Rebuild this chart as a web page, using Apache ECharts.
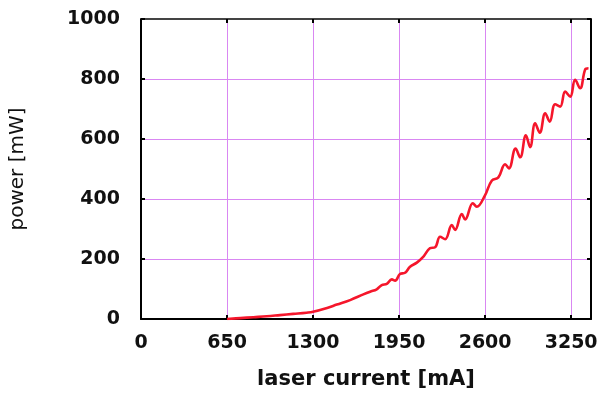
<!DOCTYPE html>
<html>
<head>
<meta charset="utf-8">
<script src="https://cdn.jsdelivr.net/npm/echarts@6/dist/echarts.min.js"></script>
<style>
  html, body { margin: 0; padding: 0; background: #fff; }
  #chart { width: 609px; height: 398px; }
</style>
</head>
<body>
<div id="chart"></div>
<script>
var current = [650, 750, 850, 950, 1050, 1150, 1250, 1300, 1400, 1480, 1580, 1680, 1731, 1781, 1819, 1857,
  1895, 1920, 1957, 1995, 2033, 2084, 2134, 2184, 2222, 2260, 2298, 2348, 2373, 2424, 2449, 2507,
  2537, 2600, 2650, 2700, 2751, 2780, 2830, 2865, 2908, 2940, 2978, 3013, 3054, 3088, 3129, 3167,
  3205, 3243, 3280, 3318, 3356, 3381]
var power = [0, 3, 6, 9, 13, 17, 21, 24, 36, 48, 63, 82, 91, 99, 113, 117,
  132, 128, 150, 154, 174, 188, 208, 236, 239, 274, 266, 313, 297, 350, 332, 386,
  374, 413, 461, 472, 516, 502, 568, 539, 612, 573, 652, 621, 686, 658, 716, 708,
  758, 741, 797, 769, 832, 836]
var xTicks = [0, 650, 1300, 1950, 2600, 3250]
var yTicks = [0, 200, 400, 600, 800, 1000]

var points = current.map(function (c, i) { return [c, power[i]] })

// magenta grid, like the gnuplot original
var gridColor = '#d987f2'
var labelFont = { fontFamily: 'DejaVu Sans', fontWeight: 'bold', fontSize: 19, color: '#111' }

var chart = echarts.init(document.getElementById('chart'))
chart.setOption({
  animation: false,
  grid: { left: 141, right: 18, top: 19, bottom: 79 },
  xAxis: [
    {
      type: 'value',
      min: 0,
      max: 3400,
      interval: 650,
      name: 'laser current [mA]',
      nameLocation: 'middle',
      nameGap: 50,
      nameTextStyle: { fontFamily: 'DejaVu Sans', fontWeight: 'bold', fontSize: 21, color: '#111' },
      axisLine: { lineStyle: { color: '#000', width: 2 } },
      axisTick: { inside: true, length: 4, lineStyle: { color: '#000', width: 2 } },
      axisLabel: Object.assign({
        margin: 15,
        showMaxLabel: false,
        formatter: function (v) { return xTicks.indexOf(v) >= 0 ? String(v) : '' }
      }, labelFont),
      splitLine: { show: true, lineStyle: { color: gridColor, width: 1 } }
    },
    {
      // top frame edge with inside ticks
      type: 'value',
      position: 'top',
      min: 0,
      max: 3400,
      interval: 650,
      axisLine: { onZero: false, lineStyle: { color: '#444', width: 2 } },
      axisTick: { inside: true, length: 4, lineStyle: { color: '#000', width: 2 } },
      axisLabel: { show: false },
      splitLine: { show: false }
    }
  ],
  yAxis: [
    {
      type: 'value',
      min: 0,
      max: 1000,
      interval: 200,
      name: 'power [mW]',
      nameLocation: 'middle',
      nameGap: 113,
      nameTextStyle: { fontFamily: 'DejaVu Sans', fontSize: 20, color: '#111' },
      axisLine: { show: true, lineStyle: { color: '#000', width: 2 } },
      axisTick: { show: true, inside: true, length: 4, lineStyle: { color: '#000', width: 2 } },
      axisLabel: Object.assign({
        margin: 21,
        formatter: function (v) { return yTicks.indexOf(v) >= 0 ? String(v) : '' }
      }, labelFont),
      splitLine: { show: true, lineStyle: { color: gridColor, width: 1 } }
    },
    {
      // right frame edge
      type: 'value',
      position: 'right',
      min: 0,
      max: 1000,
      interval: 200,
      axisLine: { show: true, onZero: false, lineStyle: { color: '#000', width: 2 } },
      axisTick: { show: true, inside: true, length: 4, lineStyle: { color: '#000', width: 2 } },
      axisLabel: { show: false },
      splitLine: { show: false }
    }
  ],
  series: [
    {
      type: 'line',
      data: points,
      smooth: 0.4,
      showSymbol: false,
      lineStyle: { color: '#f5162b', width: 2.6 },
      z: 5
    }
  ]
})
</script>
</body>
</html>
